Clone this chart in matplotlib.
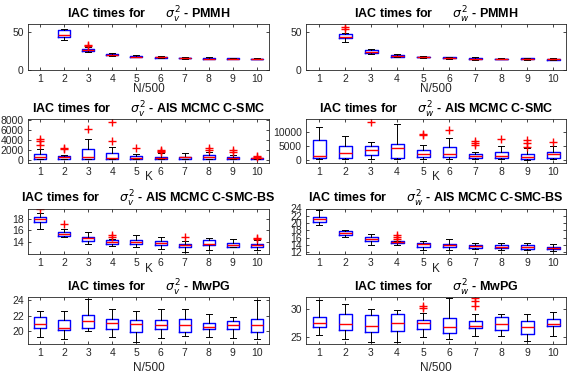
import matplotlib
matplotlib.use("Agg")
import matplotlib.pyplot as plt

plt.rcParams['font.family'] = ['Liberation Sans', 'DejaVu Sans']
plt.rcParams['mathtext.fontset'] = 'dejavusans'

# ---- data (median, quartiles, whiskers, outliers) ----
# sigma_v^2 - PMMH (no box at N/500 = 1)
a_pos = [2, 3, 4, 5, 6, 7, 8, 9, 10]
a_med = [45.8, 26.5, 20.0, 17.6, 16.5, 15.9, 15.0, 14.8, 14.6]
a_q1 = [42.7, 25.3, 19.2, 17.0, 16.0, 15.5, 14.4, 14.3, 14.3]
a_q3 = [52.6, 28.0, 21.0, 18.3, 17.0, 16.3, 15.6, 15.4, 14.9]
a_lo = [38.5, 24.0, 18.0, 16.5, 15.5, 15.0, 13.8, 13.7, 13.9]
a_hi = [54.0, 29.5, 22.0, 19.0, 18.5, 16.8, 16.5, 16.0, 15.3]
a_out = [[], [31.0, 33.0], [], [], [], [], [], [], []]

# sigma_w^2 - PMMH
b_pos = [2, 3, 4, 5, 6, 7, 8, 9, 10]
b_med = [43.2, 24.0, 18.5, 17.0, 15.8, 15.0, 14.5, 14.6, 14.1]
b_q1 = [41.5, 22.5, 17.5, 16.4, 15.2, 14.3, 14.2, 14.1, 13.6]
b_q3 = [46.4, 25.5, 19.5, 17.6, 16.4, 15.8, 14.8, 15.1, 14.6]
b_lo = [37.0, 21.5, 16.5, 15.8, 14.5, 13.5, 13.8, 13.5, 13.0]
b_hi = [47.7, 27.0, 20.5, 18.2, 17.0, 16.5, 15.2, 15.6, 15.2]
b_out = [[53.0, 55.5], [], [], [], [], [], [], [], []]

K = [1, 2, 3, 4, 5, 6, 7, 8, 9, 10]

# sigma_v^2 - AIS MCMC C-SMC
c_med = [600, 450, 450, 390, 325, 325, 520, 450, 325, 260]
c_q1 = [60, 130, 130, 130, 130, 130, 130, 130, 130, 130]
c_q3 = [1100, 780, 2080, 1365, 650, 585, 585, 845, 455, 390]
c_lo = [10, 10, 10, 10, 10, 10, 10, 10, 10, 10]
c_hi = [2210, 910, 4160, 2600, 1040, 1235, 1235, 1430, 910, 585]
c_out = [[2900, 3700, 4100], [2080, 2340], [6110], [3700, 7600], [2340],
         [1430, 1700, 1885], [], [1885, 2275], [1625, 1885], [520, 780]]

# sigma_w^2 - AIS MCMC C-SMC
d_med = [1550, 2500, 3690, 4280, 2140, 2380, 1550, 1550, 1190, 2140]
d_q1 = [950, 950, 1785, 950, 1300, 1190, 710, 950, 600, 950]
d_q3 = [7140, 4880, 5120, 5700, 3570, 4520, 2380, 3090, 2140, 2975]
d_lo = [600, 360, 600, 600, 360, 600, 360, 360, 240, 600]
d_hi = [11660, 8330, 6300, 12500, 5350, 7850, 3090, 5120, 4280, 5120]
d_out = [[], [], [13200], [], [8900, 9280], [10700], [5350, 6070, 6900],
         [7380], [4760, 5950, 7260], [6550]]

# sigma_v^2 - AIS MCMC C-SMC-BS
e_med = [18.0, 15.44, 14.67, 14.0, 14.05, 13.8, 13.4, 13.72, 13.55, 13.4]
e_q1 = [17.44, 15.1, 14.1, 13.67, 13.72, 13.44, 13.1, 13.4, 13.17, 13.17]
e_q3 = [18.39, 15.78, 14.83, 14.28, 14.4, 14.1, 13.67, 14.33, 13.83, 13.72]
e_lo = [16.17, 14.78, 13.67, 13.28, 13.1, 12.83, 12.28, 12.55, 13.1, 12.55]
e_hi = [19.1, 16.33, 15.67, 14.56, 15.2, 14.83, 14.1, 14.67, 14.5, 14.28]
e_out = [[19.7], [17.17], [], [14.9, 15.2], [], [], [14.78], [], [],
         [14.5, 14.67]]

# sigma_w^2 - AIS MCMC C-SMC-BS
f_med = [21.17, 17.2, 15.8, 14.85, 14.2, 13.9, 13.7, 13.6, 13.5, 13.3]
f_q1 = [20.3, 16.74, 15.13, 14.57, 13.6, 13.4, 13.25, 13.25, 12.96, 12.96]
f_q3 = [21.74, 17.87, 16.26, 15.13, 14.57, 14.38, 14.1, 13.9, 13.9, 13.6]
f_lo = [19.4, 16.26, 13.9, 14.1, 12.77, 12.77, 12.96, 12.68, 12.68, 12.3]
f_hi = [23.5, 18.0, 16.9, 15.13, 15.2, 15.6, 14.66, 14.66, 14.66, 14.4]
f_out = [[], [], [], [15.8, 16.26, 16.7], [], [], [], [], [], []]

# sigma_v^2 - MwPG
g_med = [20.96, 20.46, 21.37, 21.08, 20.96, 20.83, 20.83, 20.54, 20.83, 20.75]
g_q1 = [20.46, 20.12, 20.42, 20.25, 19.92, 20.33, 19.83, 20.25, 20.33, 19.83]
g_q3 = [21.79, 21.5, 22.08, 21.58, 21.5, 21.5, 21.58, 21.08, 21.29, 21.58]
g_lo = [19.2, 19.0, 20.0, 19.2, 18.58, 19.08, 19.37, 19.2, 19.08, 19.0]
g_hi = [22.6, 22.6, 24.17, 22.83, 22.6, 22.9, 22.9, 22.2, 21.79, 24.08]
g_out = [[] for _ in range(10)]

# sigma_w^2 - MwPG
h_med = [27.6, 27.4, 27.1, 27.6, 27.47, 26.8, 27.1, 27.4, 26.87, 27.4]
h_q1 = [26.87, 26.39, 25.96, 26.2, 26.57, 25.78, 26.69, 26.39, 25.6, 26.99]
h_q3 = [28.67, 29.2, 28.98, 29.1, 28.07, 28.37, 27.9, 28.67, 27.9, 28.3]
h_lo = [25.36, 24.7, 24.16, 24.16, 25.0, 24.7, 25.18, 25.18, 24.4, 25.3]
h_hi = [31.6, 31.0, 30.1, 29.88, 29.28, 31.99, 29.2, 29.2, 29.2, 29.5]
h_out = [[], [], [], [], [30.3, 30.6], [], [30.6, 31.5, 32.0], [], [], []]


def stats(med, q1, q3, lo, hi, out):
    return [dict(med=m, q1=a, q3=b, whislo=l, whishi=h, fliers=o)
            for m, a, b, l, h, o in zip(med, q1, q3, lo, hi, out)]


panels = [
    (a_pos, stats(a_med, a_q1, a_q3, a_lo, a_hi, a_out), r'$\sigma_v^2$ - PMMH',
     'N/500', (0, 60), [0, 50]),
    (b_pos, stats(b_med, b_q1, b_q3, b_lo, b_hi, b_out), r'$\sigma_w^2$ - PMMH',
     'N/500', (0, 60), [0, 50]),
    (K, stats(c_med, c_q1, c_q3, c_lo, c_hi, c_out),
     r'$\sigma_v^2$ - AIS MCMC C-SMC', 'K', (-700, 8100),
     [0, 2000, 4000, 6000, 8000]),
    (K, stats(d_med, d_q1, d_q3, d_lo, d_hi, d_out),
     r'$\sigma_w^2$ - AIS MCMC C-SMC', 'K', (-870, 14200), [0, 5000, 10000]),
    (K, stats(e_med, e_q1, e_q3, e_lo, e_hi, e_out),
     r'$\sigma_v^2$ - AIS MCMC C-SMC-BS', 'K', (12.0, 19.8), [14, 16, 18]),
    (K, stats(f_med, f_q1, f_q3, f_lo, f_hi, f_out),
     r'$\sigma_w^2$ - AIS MCMC C-SMC-BS', 'K', (11.7, 24.0),
     [12, 14, 16, 18, 20, 22, 24]),
    (K, stats(g_med, g_q1, g_q3, g_lo, g_hi, g_out), r'$\sigma_v^2$ - MwPG',
     'N/500', (18.33, 24.42), [20, 22, 24]),
    (K, stats(h_med, h_q1, h_q3, h_lo, h_hi, h_out), r'$\sigma_w^2$ - MwPG',
     'N/500', (23.8, 32.2), [25, 30]),
]

W, H = 578, 377
fig = plt.figure(figsize=(W / 100, H / 100), dpi=100)

cols = [(28, 269), (306, 566)]
rows = [(24, 70), (119.5, 163), (208.5, 253.5), (297, 344)]
label_off = [13, 8, 10, 18]  # px between axis bottom and xlabel top

grey = '0.15'
for i, (pos, st, title, xl, ylim, yt) in enumerate(panels):
    r, c = divmod(i, 2)
    x0, x1 = cols[c]
    y0, y1 = rows[r]
    ax = fig.add_axes([x0 / W, 1 - y1 / H, (x1 - x0) / W, (y1 - y0) / H])
    ax.bxp(st, positions=pos, widths=0.5, capwidths=0.25, showfliers=True,
           boxprops=dict(color='blue', lw=1.0),
           medianprops=dict(color='red', lw=1.0),
           whiskerprops=dict(color='black', lw=0.7),
           capprops=dict(color='black', lw=0.7),
           flierprops=dict(marker='+', markeredgecolor='red', markersize=6,
                           markeredgewidth=1.0, linestyle='none'))
    ax.set_xlim(0.5, 10.5)
    ax.set_xticks(range(1, 11))
    ax.set_xticklabels([str(k) for k in range(1, 11)])
    ax.set_ylim(*ylim)
    ax.set_yticks(yt)
    ax.tick_params(direction='in', top=True, right=True, length=2.5,
                   width=0.6, labelsize=7.5, colors=grey, pad=3)
    for sp in ax.spines.values():
        sp.set_color(grey)
        sp.set_linewidth(0.6)
    ax.set_title('IAC times for      ' + title, fontsize=9, fontweight='bold',
                 pad=4, color='black')
    ax.set_xlabel(xl, fontsize=8.5, color=grey)
    ax.xaxis.set_label_coords(0.5, -label_off[r] / (y1 - y0))

fig.savefig('out.png', dpi=100)
